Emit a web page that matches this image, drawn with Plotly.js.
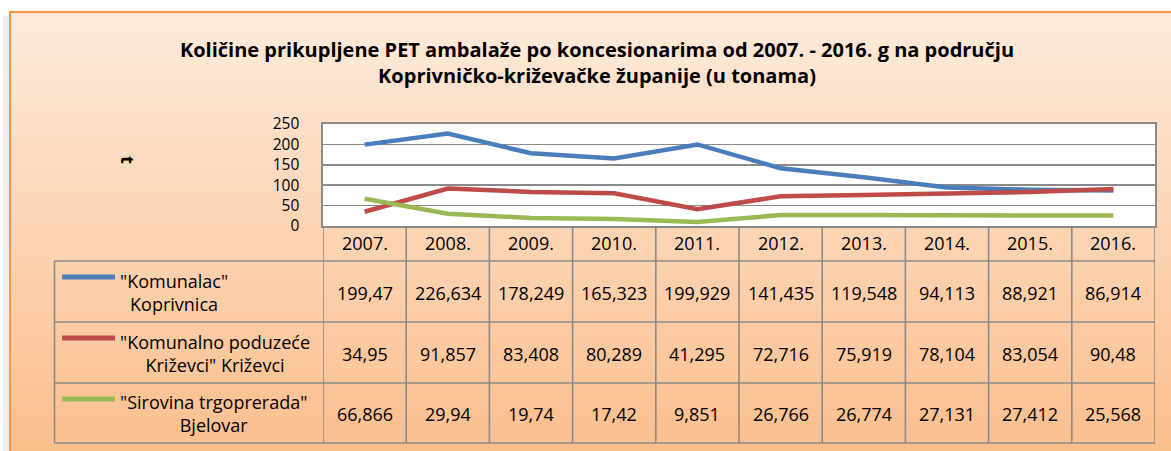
<!DOCTYPE html>
<html><head><meta charset="utf-8">
<script src="https://cdn.plot.ly/plotly-3.0.1.min.js"></script>
<style>html,body{margin:0;padding:0;background:#fff}#chart{width:1171px;height:451px}</style>
</head><body><div id="chart"></div>
<script>
// ---- data ----
const years = ['2007.', '2008.', '2009.', '2010.', '2011.', '2012.', '2013.', '2014.', '2015.', '2016.'];
const seriesNames = ['"Komunalac"<br>Koprivnica', '"Komunalno poduzeće<br>Križevci" Križevci', '"Sirovina trgoprerada"<br>Bjelovar'];
const komunalac = [199.47, 226.634, 178.249, 165.323, 199.929, 141.435, 119.548, 94.113, 88.921, 86.914];
const krizevci = [34.95, 91.857, 83.408, 80.289, 41.295, 72.716, 75.919, 78.104, 83.054, 90.48];
const sirovina = [66.866, 29.94, 19.74, 17.42, 9.851, 26.766, 26.774, 27.131, 27.412, 25.568];
const yTicks = [0, 50, 100, 150, 200, 250];
const titleText = 'Količine prikupljene PET ambalaže po koncesionarima od 2007. - 2016. g na području<br>Koprivničko-križevačke županije (u tonama)';
const yTitle = 't';

const seriesValues = [komunalac, krizevci, sirovina];
const colors = ['#4A7EBB', '#BE4B48', '#98B954'];

// ---- geometry (pixels) ----
const W = 1171, H = 451;
const L = 323, R = 1155, T = 124, B = 226;
const px2x = p => (p - L) / (R - L);
const py2y = p => (B - p) / (B - T);
const FONT = '"Open Sans", "DejaVu Sans", sans-serif';
const gridCol = '#8A8A8A';

const shapes = [];
// background gradient
const N = 60, y0px = 12, y1px = H + 5;
const c0 = [253, 234, 218], c1 = [251, 190, 141];
for (let i = 0; i < N; i++) {
  const t = i / (N - 1);
  const c = c0.map((v, k) => Math.round(v + (c1[k] - v) * t));
  const a = y0px + (y1px - y0px) * i / N, b = y0px + (y1px - y0px) * (i + 1) / N + 0.5;
  shapes.push({type: 'rect', layer: 'below', xref: 'paper', yref: 'paper',
    x0: px2x(10), x1: px2x(W + 10), y0: py2y(a), y1: py2y(b),
    line: {width: 0}, fillcolor: `rgb(${c[0]},${c[1]},${c[2]})`});
}
// left shadow
shapes.push({type: 'rect', layer: 'below', xref: 'paper', yref: 'paper',
  x0: px2x(3), x1: px2x(9), y0: py2y(16), y1: py2y(H + 5), line: {width: 0}, fillcolor: '#EDEDED'});
// orange frame
shapes.push({type: 'rect', layer: 'below', xref: 'paper', yref: 'paper',
  x0: px2x(10), x1: px2x(W + 20), y0: py2y(12), y1: py2y(H + 20),
  line: {width: 2, color: '#F79646'}, fillcolor: 'rgba(0,0,0,0)'});
// plot area white
shapes.push({type: 'rect', layer: 'below', xref: 'paper', yref: 'paper',
  x0: 0, x1: 1, y0: 0, y1: 1, line: {width: 0}, fillcolor: '#FFFFFF'});

// table lines
const rowLines = [261, 322, 383, 443];
const tableLeft = 54.5;
const lineStyle = {width: 1.6, color: gridCol};
for (let k = 0; k <= years.length; k++) {
  shapes.push({type: 'line', xref: 'x', yref: 'paper', x0: k - 0.5, x1: k - 0.5,
    y0: py2y(B), y1: py2y(rowLines[rowLines.length - 1]), line: lineStyle});
}
shapes.push({type: 'line', xref: 'paper', yref: 'paper', x0: px2x(tableLeft), x1: px2x(tableLeft),
  y0: py2y(rowLines[0]), y1: py2y(rowLines[rowLines.length - 1]), line: lineStyle});
rowLines.forEach(r => shapes.push({type: 'line', xref: 'paper', yref: 'paper',
  x0: px2x(tableLeft), x1: 1, y0: py2y(r), y1: py2y(r), line: lineStyle}));

const annotations = [];
// header year labels
years.forEach((yr, k) => annotations.push({xref: 'x', yref: 'paper', x: k, y: py2y(243),
  text: yr, showarrow: false, xanchor: 'center', yanchor: 'middle', font: {family: FONT, size: 18, color: '#000'}}));
// rows
const fmt = v => String(v).replace('.', ',');
seriesValues.forEach((vals, i) => {
  const top = rowLines[i], bot = rowLines[i + 1], mid = (top + bot) / 2;
  vals.forEach((v, k) => annotations.push({xref: 'x', yref: 'paper', x: k, y: py2y(mid + 1),
    text: fmt(v), showarrow: false, xanchor: 'center', yanchor: 'middle', font: {family: FONT, size: 18, color: '#000'}}));
  annotations.push({xref: 'paper', yref: 'paper', x: px2x(118), y: py2y(mid + 1),
    text: seriesNames[i], showarrow: false, xanchor: 'left', yanchor: 'middle', align: 'center',
    font: {family: FONT, size: 18, color: '#000'}});
  shapes.push({type: 'line', xref: 'paper', yref: 'paper', x0: px2x(62), x1: px2x(115),
    y0: py2y(top + 16), y1: py2y(top + 16), line: {width: 5, color: colors[i]}});
});
// y title
annotations.push({xref: 'paper', yref: 'paper', x: px2x(128), y: py2y(160), text: yTitle, textangle: 90,
  showarrow: false, xanchor: 'center', yanchor: 'middle', font: {family: FONT, size: 18, weight: 'bold', color: '#000'}});

const traces = seriesValues.map((vals, i) => ({
  type: 'scatter', mode: 'lines', x: years, y: vals, name: seriesNames[i].replace('<br>', ' '),
  line: {color: colors[i], width: 4.5, shape: 'linear'}, hoverinfo: 'skip'
}));

const layout = {
  width: W, height: H,
  margin: {l: L, r: W - R, t: T, b: H - B, pad: 0},
  paper_bgcolor: '#FFFFFF', plot_bgcolor: 'rgba(0,0,0,0)',
  showlegend: false,
  title: {text: titleText, x: 597 / W, xanchor: 'center', xref: 'container', y: 1 - 57 / H, yanchor: 'middle', yref: 'container',
    font: {family: FONT, size: 20, weight: 'bold', color: '#000'}},
  xaxis: {type: 'category', range: [-0.5, years.length - 0.5], showticklabels: false, showgrid: false,
    showline: true, mirror: true, linecolor: gridCol, linewidth: 1.6, zeroline: false, fixedrange: true},
  yaxis: {range: [0, 250], tickvals: yTicks, ticktext: yTicks.map(String), showgrid: true, gridcolor: gridCol, gridwidth: 1.6,
    showline: true, mirror: true, linecolor: gridCol, linewidth: 1.6, zeroline: false, ticks: '',
    ticklabelstandoff: 19, tickfont: {family: FONT, size: 15.5, color: '#000'}, fixedrange: true},
  shapes: shapes, annotations: annotations
};
Plotly.newPlot('chart', traces, layout, {displayModeBar: false, staticPlot: true});
</script>
</body></html>
